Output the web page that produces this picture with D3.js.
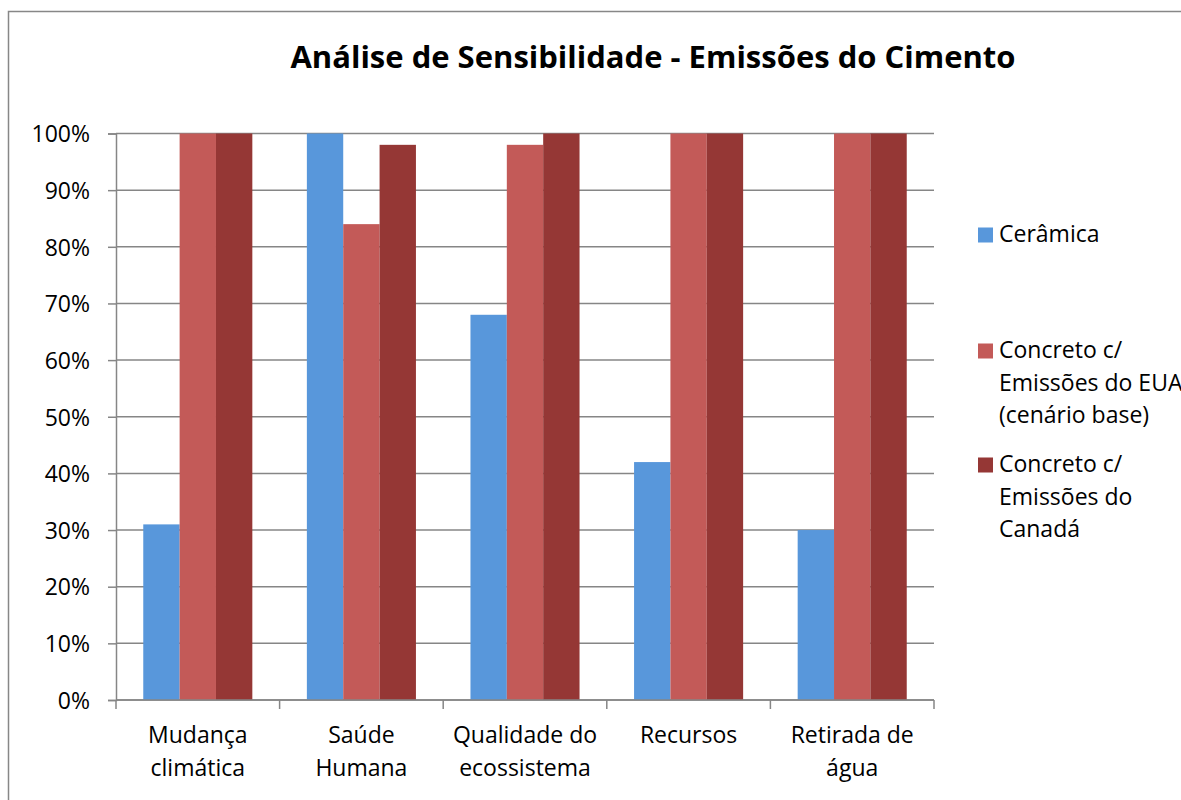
<!DOCTYPE html>
<html lang="pt">
<head>
<meta charset="UTF-8">
<title>Análise de Sensibilidade</title>
<script src="https://cdn.jsdelivr.net/npm/d3@7/dist/d3.min.js"></script>
<style>
  body { margin: 0; background: #fff; }
  svg text { font-family: "Open Sans", sans-serif; fill: #000; }
</style>
</head>
<body>
<svg id="chart" width="1181" height="800"></svg>
<script>
// data
var categories = [["Mudança", "climática"], ["Saúde", "Humana"], ["Qualidade do", "ecossistema"], ["Recursos"], ["Retirada de", "água"]];
var seriesNames = [["Cerâmica"], ["Concreto c/", "Emissões do EUA", "(cenário base)"], ["Concreto c/", "Emissões do", "Canadá"]];
var ceramica = [31, 100, 68, 42, 30];
var concretoEUA = [100, 84, 98, 100, 100];
var concretoCanada = [100, 98, 100, 100, 100];
var yTicks = [0, 10, 20, 30, 40, 50, 60, 70, 80, 90, 100];
var colors = ["#5897DB", "#C35A58", "#953735"];

var values = [ceramica, concretoEUA, concretoCanada];

var svg = d3.select("#chart");
var plotLeft = 116, plotRight = 934, plotTop = 133.5, plotBottom = 700;

// outer chart border (runs past the right/bottom edge)
svg.append("rect")
    .attr("x", 8.5).attr("y", 11.5)
    .attr("width", 1300).attr("height", 900)
    .attr("fill", "none").attr("stroke", "#878787").attr("stroke-width", 1.5);

svg.append("text")
    .attr("x", 653).attr("y", 68)
    .attr("text-anchor", "middle")
    .style("font-size", "31px").style("font-weight", "bold")
    .text("Análise de Sensibilidade - Emissões do Cimento");

var x0 = d3.scaleBand().domain(d3.range(categories.length)).range([plotLeft, plotRight]);
// excel gap width 150%: bars take 3/(3+1.5) of band
var x1 = d3.scaleBand().domain(d3.range(values.length))
    .range([x0.bandwidth() * 0.75 / 4.5, x0.bandwidth() * (1 - 0.75 / 4.5)]);
var y = d3.scaleLinear().domain([0, 100]).range([plotBottom, plotTop]);

// gridlines
svg.append("g").selectAll("line").data(yTicks).enter().append("line")
    .attr("x1", plotLeft).attr("x2", plotRight)
    .attr("y1", function(d) { return y(d); }).attr("y2", function(d) { return y(d); })
    .attr("stroke", "#868686").attr("stroke-width", 1.5);

// y axis
var yAxis = svg.append("g").attr("transform", "translate(" + plotLeft + ",0)")
    .call(d3.axisLeft(y).tickValues(yTicks).tickSize(8).tickPadding(18).tickFormat(function(d) { return d + "%"; }));
yAxis.select(".domain").attr("stroke", "#868686").attr("stroke-width", 1.5);
yAxis.selectAll(".tick line").attr("stroke", "#868686").attr("stroke-width", 1.5);
yAxis.selectAll("text").style("font-size", "23px").attr("dy", "0.36em");

// bars
svg.append("g").selectAll("g").data(values).enter().append("g")
    .attr("fill", function(d, i) { return colors[i]; })
    .each(function(series, si) {
        d3.select(this).selectAll("rect").data(series).enter().append("rect")
            .attr("x", function(d, ci) { return x0(ci) + x1(si); })
            .attr("width", x1.bandwidth())
            .attr("y", function(d) { return y(d); })
            .attr("height", function(d) { return y(0) - y(d); });
    });

// x axis
svg.append("line")
    .attr("x1", plotLeft).attr("x2", plotRight).attr("y1", plotBottom).attr("y2", plotBottom)
    .attr("stroke", "#868686").attr("stroke-width", 1.5);
svg.append("g").selectAll("line").data(d3.range(categories.length + 1)).enter().append("line")
    .attr("x1", function(i) { return plotLeft + i * x0.bandwidth(); })
    .attr("x2", function(i) { return plotLeft + i * x0.bandwidth(); })
    .attr("y1", plotBottom).attr("y2", plotBottom + 9)
    .attr("stroke", "#868686").attr("stroke-width", 1.5);

var catLabels = svg.append("g").selectAll("text").data(categories).enter().append("text")
    .attr("text-anchor", "middle")
    .style("font-size", "23px");
catLabels.each(function(lines, i) {
    d3.select(this).selectAll("tspan").data(lines).enter().append("tspan")
        .attr("x", x0(i) + x0.bandwidth() / 2)
        .attr("y", function(d, j) { return 743 + j * 33; })
        .text(function(d) { return d; });
});

// legend
var legendBase = [242, 358, 472];
var legend = svg.append("g").selectAll("g").data(seriesNames).enter().append("g");
legend.append("rect")
    .attr("x", 978).attr("y", function(d, i) { return legendBase[i] - 14.5; })
    .attr("width", 15).attr("height", 15)
    .attr("fill", function(d, i) { return colors[i]; });
legend.each(function(lines, i) {
    d3.select(this).append("text").style("font-size", "23px")
        .selectAll("tspan").data(lines).enter().append("tspan")
        .attr("x", 999)
        .attr("y", function(d, j) { return legendBase[i] + j * 32.5; })
        .text(function(d) { return d; });
});
</script>
</body>
</html>
